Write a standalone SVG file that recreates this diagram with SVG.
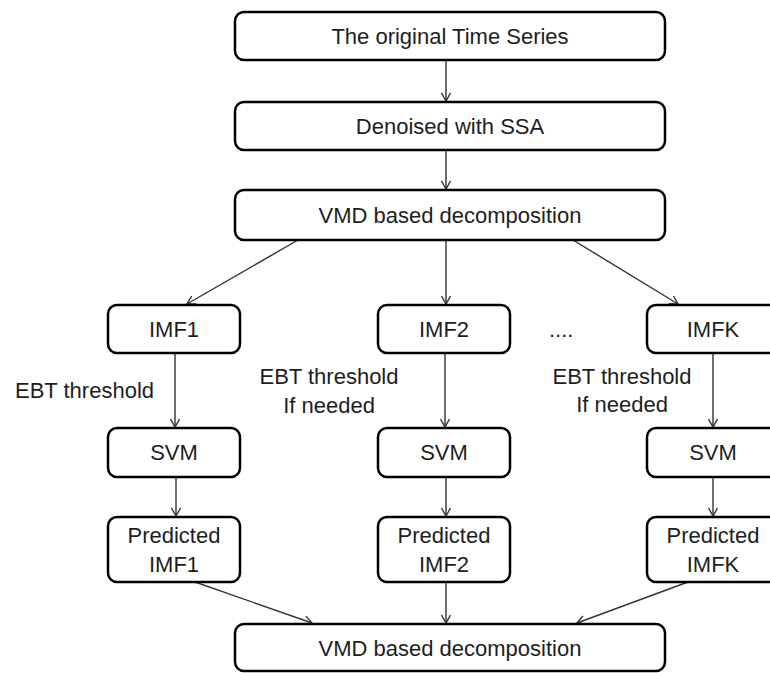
<svg xmlns="http://www.w3.org/2000/svg" width="770" height="673" viewBox="0 0 770 673">
  <style>
    .box { fill: #ffffff; stroke: #000000; stroke-width: 2.5; }
    .lbl { font-family: "Liberation Sans", Arial, sans-serif; font-size: 22px; fill: #1e1e1e; text-anchor: middle; }
    .note { font-family: "Liberation Sans", Arial, sans-serif; font-size: 22px; fill: #1e1e1e; }
    .edge { stroke: #333333; stroke-width: 1.4; fill: none; marker-end: url(#arrow); }
  </style>
  <defs>
    <marker id="arrow" markerUnits="userSpaceOnUse" markerWidth="12" markerHeight="12" refX="9" refY="5" orient="auto">
      <path d="M1,0.5 L9,5 L1,9.5" fill="none" stroke="#333333" stroke-width="1.4"/>
    </marker>
  </defs>

  <rect width="770" height="673" fill="#ffffff"/>

  <!-- connectors -->
  <g id="connectors">
    <line class="edge" x1="446" y1="60" x2="446" y2="101"/>
    <line class="edge" x1="446" y1="150" x2="446" y2="189"/>
    <line class="edge" x1="298" y1="240" x2="187" y2="304"/>
    <line class="edge" x1="446" y1="240" x2="446" y2="304"/>
    <line class="edge" x1="573" y1="240" x2="678" y2="304"/>
    <line class="edge" x1="175" y1="353" x2="175" y2="427"/>
    <line class="edge" x1="445" y1="353" x2="445" y2="427"/>
    <line class="edge" x1="713" y1="353" x2="713" y2="427"/>
    <line class="edge" x1="176" y1="477" x2="176" y2="516"/>
    <line class="edge" x1="446" y1="477" x2="446" y2="516"/>
    <line class="edge" x1="713" y1="477" x2="713" y2="516"/>
    <line class="edge" x1="195" y1="582" x2="312" y2="623"/>
    <line class="edge" x1="446" y1="582" x2="446" y2="623"/>
    <line class="edge" x1="688" y1="582" x2="577" y2="623"/>
  </g>

  <!-- edge notes -->
  <g id="notes">
    <text class="note" x="15" y="398">EBT threshold</text>
    <text class="lbl" x="329" y="384">EBT threshold</text>
    <text class="lbl" x="329" y="413">If needed</text>
    <text class="lbl" x="622" y="384">EBT threshold</text>
    <text class="lbl" x="622" y="412">If needed</text>
    <text class="note" x="549" y="337">....</text>
  </g>

  <g id="original">
    <rect class="box" x="235" y="12" width="430" height="48" rx="9"/>
    <text class="lbl" x="450" y="44">The original Time Series</text>
  </g>
  <g id="denoised">
    <rect class="box" x="235" y="102" width="430" height="48" rx="9"/>
    <text class="lbl" x="450" y="134">Denoised with SSA</text>
  </g>
  <g id="vmd">
    <rect class="box" x="235" y="190" width="430" height="50" rx="9"/>
    <text class="lbl" x="450" y="223">VMD based decomposition</text>
  </g>

  <g id="imf1">
    <rect class="box" x="108" y="305" width="132" height="48" rx="9"/>
    <text class="lbl" x="174" y="337">IMF1</text>
  </g>
  <g id="imf2">
    <rect class="box" x="378" y="305" width="132" height="48" rx="9"/>
    <text class="lbl" x="444" y="337">IMF2</text>
  </g>
  <g id="imfk">
    <rect class="box" x="647" y="305" width="132" height="48" rx="9"/>
    <text class="lbl" x="713" y="337">IMFK</text>
  </g>

  <g id="svm1">
    <rect class="box" x="108" y="428" width="132" height="49" rx="9"/>
    <text class="lbl" x="174" y="460">SVM</text>
  </g>
  <g id="svm2">
    <rect class="box" x="378" y="428" width="132" height="49" rx="9"/>
    <text class="lbl" x="444" y="460">SVM</text>
  </g>
  <g id="svmk">
    <rect class="box" x="647" y="428" width="132" height="49" rx="9"/>
    <text class="lbl" x="713" y="460">SVM</text>
  </g>

  <g id="pred1">
    <rect class="box" x="108" y="517" width="132" height="65" rx="9"/>
    <text class="lbl" x="174" y="543">Predicted</text>
    <text class="lbl" x="174" y="572">IMF1</text>
  </g>
  <g id="pred2">
    <rect class="box" x="378" y="517" width="132" height="65" rx="9"/>
    <text class="lbl" x="444" y="543">Predicted</text>
    <text class="lbl" x="444" y="572">IMF2</text>
  </g>
  <g id="predk">
    <rect class="box" x="647" y="517" width="132" height="65" rx="9"/>
    <text class="lbl" x="713" y="543">Predicted</text>
    <text class="lbl" x="713" y="572">IMFK</text>
  </g>

  <g id="reconstruct">
    <rect class="box" x="235" y="624" width="430" height="47" rx="9"/>
    <text class="lbl" x="450" y="656">VMD based decomposition</text>
  </g>
</svg>
